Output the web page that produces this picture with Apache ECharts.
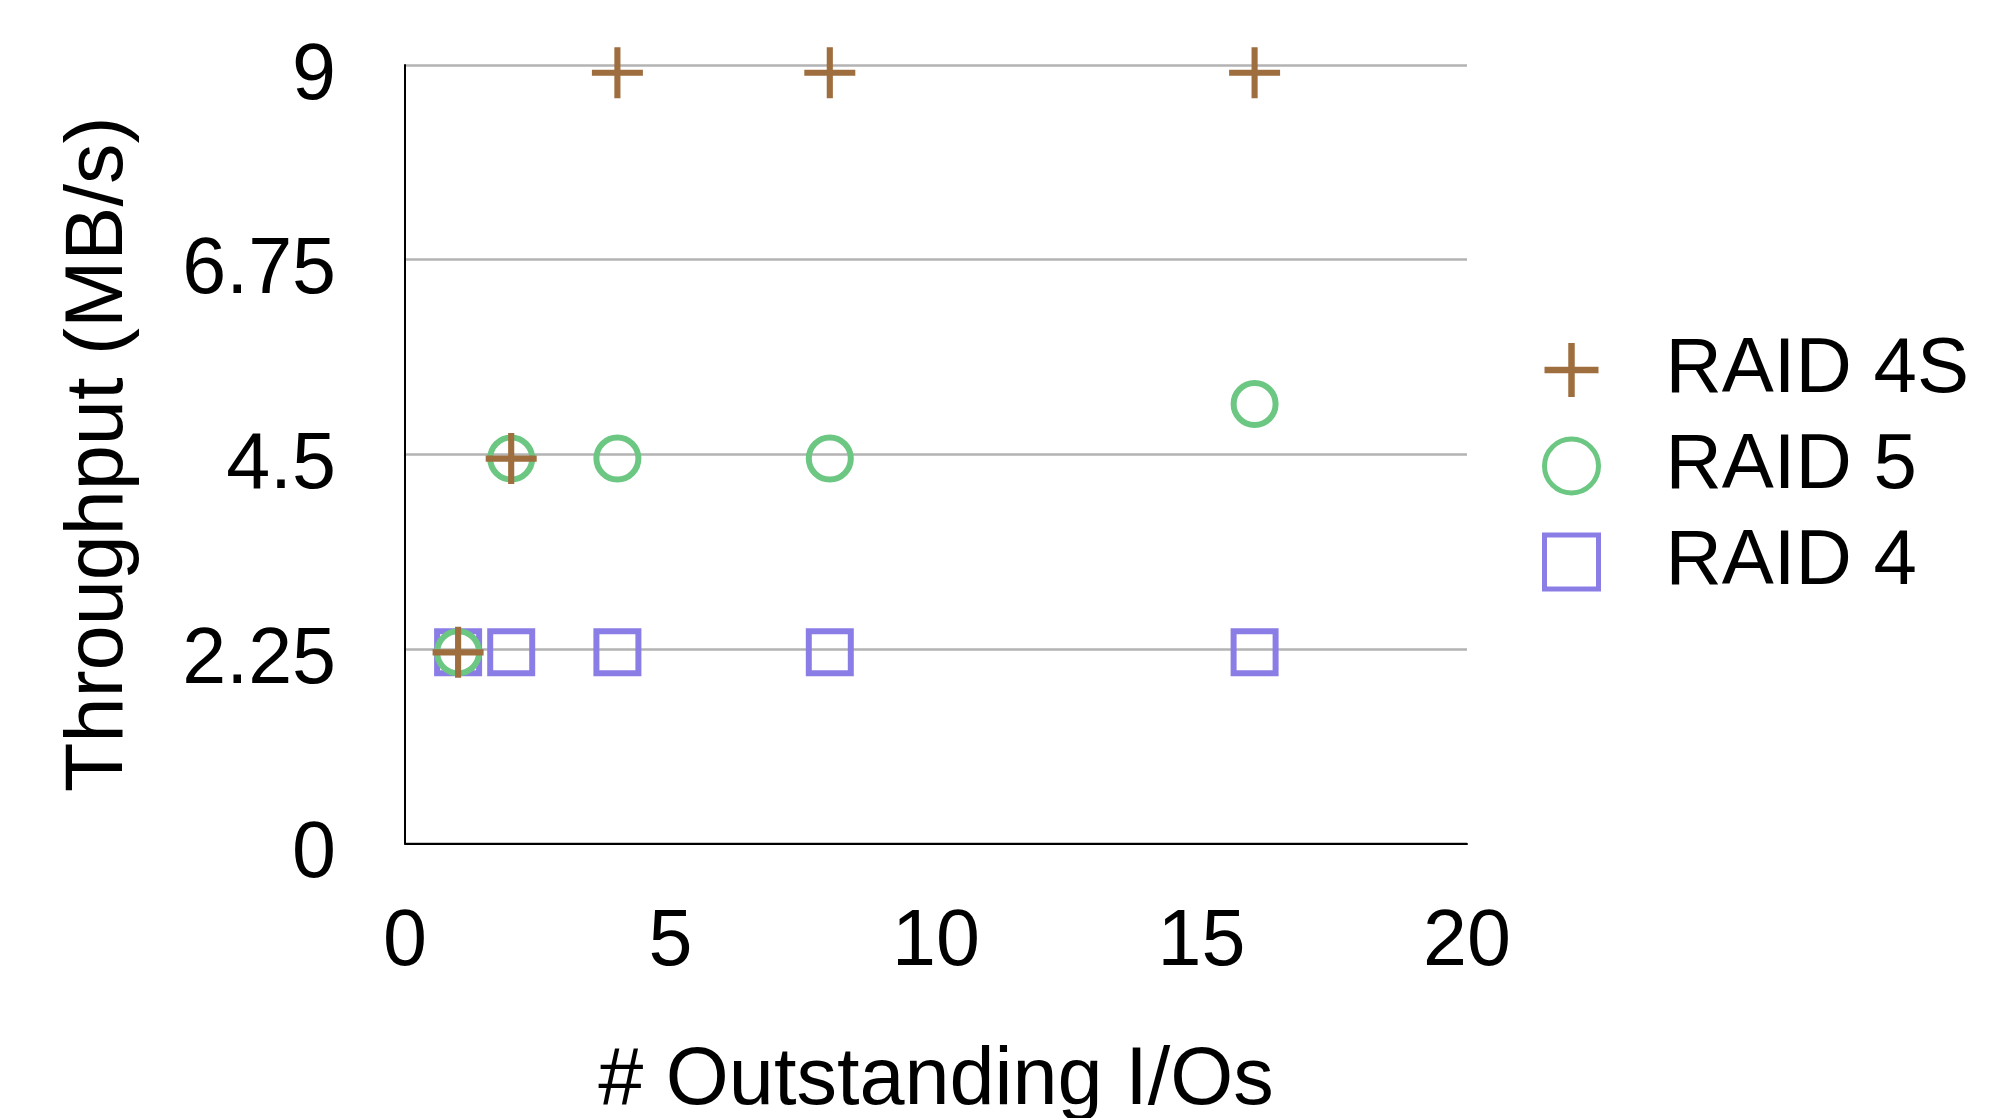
<!DOCTYPE html>
<html>
<head>
<meta charset="utf-8">
<script src="https://cdn.jsdelivr.net/npm/echarts@6/dist/echarts.min.js"></script>
<style>
html,body{margin:0;padding:0;background:#fff;}
#chart{width:2004px;height:1118px;}
</style>
</head>
<body>
<div id="chart"></div>
<script>
// Data
const outstandingIOs = [1, 2, 4, 8, 16];
const raid4S = [2.21, 4.45, 8.91, 8.91, 8.91];
const raid5 = [2.21, 4.45, 4.45, 4.45, 5.08];
const raid4 = [2.21, 2.21, 2.21, 2.21, 2.21];
const seriesNames = ['RAID 4S', 'RAID 5', 'RAID 4'];
const xTicks = [0, 5, 10, 15, 20];
const yTicks = [0, 2.25, 4.5, 6.75, 9];

const pts = (ys) => outstandingIOs.map((x, i) => [x, ys[i]]);
const FONT = '"Liberation Sans", Arial, sans-serif';
const plusPath = 'path://M22,0 H28 V22 H50 V28 H28 V50 H22 V28 H0 V22 H22 Z';

const chart = echarts.init(document.getElementById('chart'));
chart.setOption({
  animation: false,
  backgroundColor: '#fff',
  grid: { left: 405, right: 537, top: 65, bottom: 274.5, containLabel: false, outerBoundsMode: 'none' },
  xAxis: {
    type: 'value', min: xTicks[0], max: xTicks[xTicks.length - 1], interval: 5,
    name: '# Outstanding I/Os', nameLocation: 'middle', nameGap: 198,
    nameTextStyle: { fontFamily: FONT, fontSize: 81, color: '#000' },
    axisLine: { show: true, lineStyle: { color: '#000', width: 2 } },
    axisTick: { show: false },
    splitLine: { show: false },
    axisLabel: { fontFamily: FONT, fontSize: 79, color: '#000', margin: 60 }
  },
  yAxis: {
    type: 'value', min: yTicks[0], max: yTicks[yTicks.length - 1], interval: 2.25,
    name: 'Throughput (MB/s)', nameLocation: 'middle', nameGap: 265,
    nameTextStyle: { fontFamily: FONT, fontSize: 81, color: '#000' },
    axisLine: { show: true, lineStyle: { color: '#000', width: 2 } },
    axisTick: { show: false },
    splitLine: { show: true, lineStyle: { color: '#b3b3b3', width: 2.5 } },
    axisLabel: { color: '#000', margin: 69,
      formatter: (v) => '{t|' + v + '}',
      rich: { t: { fontFamily: FONT, fontSize: 79, color: '#000', padding: [24, 0, 0, 0] } } }
  },
  legend: {
    orient: 'vertical', left: 1537, top: 326,
    data: seriesNames,
    itemWidth: 54, itemHeight: 54, itemGap: 18,
    itemStyle: { borderWidth: 5 },
    textStyle: { fontFamily: FONT, fontSize: 78, color: '#000', lineHeight: 78, padding: [0, 0, 0, 62] }
  },
  series: [
    {
      name: 'RAID 4', type: 'scatter', data: pts(raid4), symbol: 'rect', symbolSize: 42, z: 2,
      itemStyle: { color: 'rgba(0,0,0,0)', borderColor: '#8a7ee6', borderWidth: 6, opacity: 1 }
    },
    {
      name: 'RAID 5', type: 'scatter', data: pts(raid5), symbol: 'circle', symbolSize: 42, z: 3,
      itemStyle: { color: 'rgba(0,0,0,0)', borderColor: '#6cc782', borderWidth: 6, opacity: 1 }
    },
    {
      name: 'RAID 4S', type: 'scatter', data: pts(raid4S), symbol: plusPath, symbolSize: 51, z: 4,
      itemStyle: { color: '#9f6e3e', opacity: 1, borderWidth: 0 }
    }
  ]
});
</script>
</body>
</html>
